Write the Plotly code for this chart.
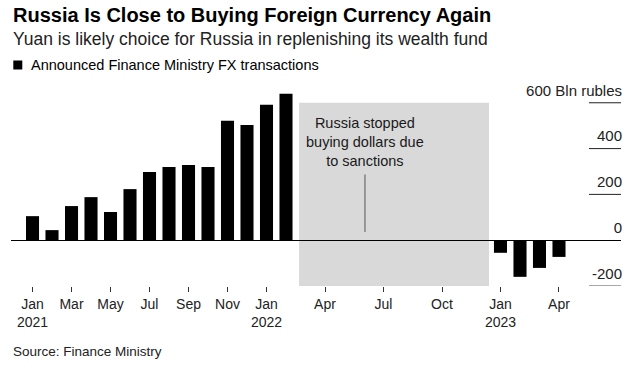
import plotly.graph_objects as go

# ---- data ----
months = [
    "2021-01", "2021-02", "2021-03", "2021-04", "2021-05", "2021-06",
    "2021-07", "2021-08", "2021-09", "2021-10", "2021-11", "2021-12",
    "2022-01", "2022-02", "2022-03", "2022-04", "2022-05", "2022-06",
    "2022-07", "2022-08", "2022-09", "2022-10", "2022-11", "2022-12",
    "2023-01", "2023-02", "2023-03", "2023-04",
]
fx_transactions = [
    105, 44, 149, 188, 123, 223, 298, 320, 328, 320, 521, 503,
    591, 639, None, None, None, None, None, None, None, None, None, None,
    -55, -160, -121, -73,
]
tick_months = ["2021-01", "2021-03", "2021-05", "2021-07", "2021-09", "2021-11",
               "2022-01", "2022-04", "2022-07", "2022-10", "2023-01", "2023-04"]
tick_labels = ["Jan<br>2021", "Mar", "May", "Jul", "Sep", "Nov",
               "Jan<br>2022", "Apr", "Jul", "Oct", "Jan<br>2023", "Apr"]
y_ticks = [-200, 0, 200, 400, 600]
y_tick_labels = ["-200", "0", "200", "400", "600 Bln rubles"]

FONT = "Liberation Sans, Arial, Helvetica, sans-serif"

fig = go.Figure()
fig.add_trace(go.Bar(
    x=months, y=fx_transactions, width=0.67,
    marker=dict(color="#000000", line=dict(width=0)),
    name="Announced Finance Ministry FX transactions",
    showlegend=False, hoverinfo="x+y",
))

# plot area pixels: top 84, bottom 286 (height 202)
def py(p):
    return (286 - p) / 202.0

shapes = [
    # sanctions shading
    dict(type="rect", xref="x", yref="y", x0=13.67, x1=23.41, y0=-200, y1=600,
         fillcolor="#d9d9d9", line=dict(width=0), layer="below"),
    # annotation pointer line
    dict(type="line", xref="x", yref="y", x0=17.05, x1=17.05, y0=36, y1=287,
         line=dict(color="#555555", width=1)),
    # legend square
    dict(type="rect", xref="paper", yref="paper",
         x0=(13.3 - 11) / 610, x1=(22.3 - 11) / 610, y0=py(69.5), y1=py(60.5),
         fillcolor="#000000", line=dict(width=0)),
]
for v in [200, 400, 600]:
    shapes.append(dict(type="line", xref="paper", yref="y", x0=0.9475, x1=1.0,
                       y0=v, y1=v, line=dict(color="#222222", width=1)))
shapes.append(dict(type="line", xref="paper", yref="y", x0=0.9475, x1=1.0,
                   y0=-200, y1=-200, line=dict(color="#8a8a8a", width=1.5)))

annotations = [
    dict(text="<b>Russia Is Close to Buying Foreign Currency Again</b>",
         xref="paper", yref="paper", x=0, y=py(14.7), xanchor="left", yanchor="middle",
         showarrow=False, font=dict(family=FONT, size=20, color="#000000")),
    dict(text="Yuan is likely choice for Russia in replenishing its wealth fund",
         xref="paper", yref="paper", x=0, y=py(38.5), xanchor="left", yanchor="middle",
         showarrow=False, font=dict(family=FONT, size=17.5, color="#222222")),
    dict(text="Announced Finance Ministry FX transactions",
         xref="paper", yref="paper", x=(29 - 11) / 610, y=py(65.2), xanchor="left",
         yanchor="middle", showarrow=False,
         font=dict(family=FONT, size=14.5, color="#000000")),
    dict(text="Russia stopped<br>buying dollars due<br>to sanctions",
         xref="x", yref="y", x=17.05, y=430, xanchor="center", yanchor="middle",
         showarrow=False, align="center",
         font=dict(family=FONT, size=14.5, color="#1a1a1a")),
    dict(text="Source: Finance Ministry",
         xref="paper", yref="paper", x=0, y=py(351), xanchor="left", yanchor="middle",
         showarrow=False, font=dict(family=FONT, size=13.5, color="#222222")),
]

fig.update_layout(
    width=634, height=374,
    margin=dict(l=11, r=13, t=84, b=88, pad=0, autoexpand=False),
    paper_bgcolor="#ffffff", plot_bgcolor="#ffffff",
    font=dict(family=FONT, size=14, color="#222222"),
    bargap=0.33,
    shapes=shapes, annotations=annotations,
    xaxis=dict(
        type="category", range=[-1.103, 30.18],
        tickmode="array", tickvals=tick_months, ticktext=tick_labels,
        ticks="outside", ticklen=5, tickwidth=1, tickcolor="#333333",
        showgrid=False, showline=False, zeroline=False, automargin=False,
        tickfont=dict(family=FONT, size=14, color="#222222"),
        fixedrange=True,
    ),
    yaxis=dict(
        side="right", range=[-200, 682],
        tickmode="array", tickvals=y_ticks, ticktext=y_tick_labels,
        ticklabelposition="inside top", ticklabeloverflow="allow", ticks="",
        ticklabelshift=-2, ticklabelstandoff=-4,
        showgrid=False, showline=False, automargin=False,
        zeroline=True, zerolinecolor="#000000", zerolinewidth=1,
        tickfont=dict(family=FONT, size=15, color="#222222"),
        fixedrange=True,
    ),
)

fig.write_html(
    "out.html",
    config={"displayModeBar": False},
    post_script="document.body.style.margin='0';document.body.style.overflow='hidden';",
)
